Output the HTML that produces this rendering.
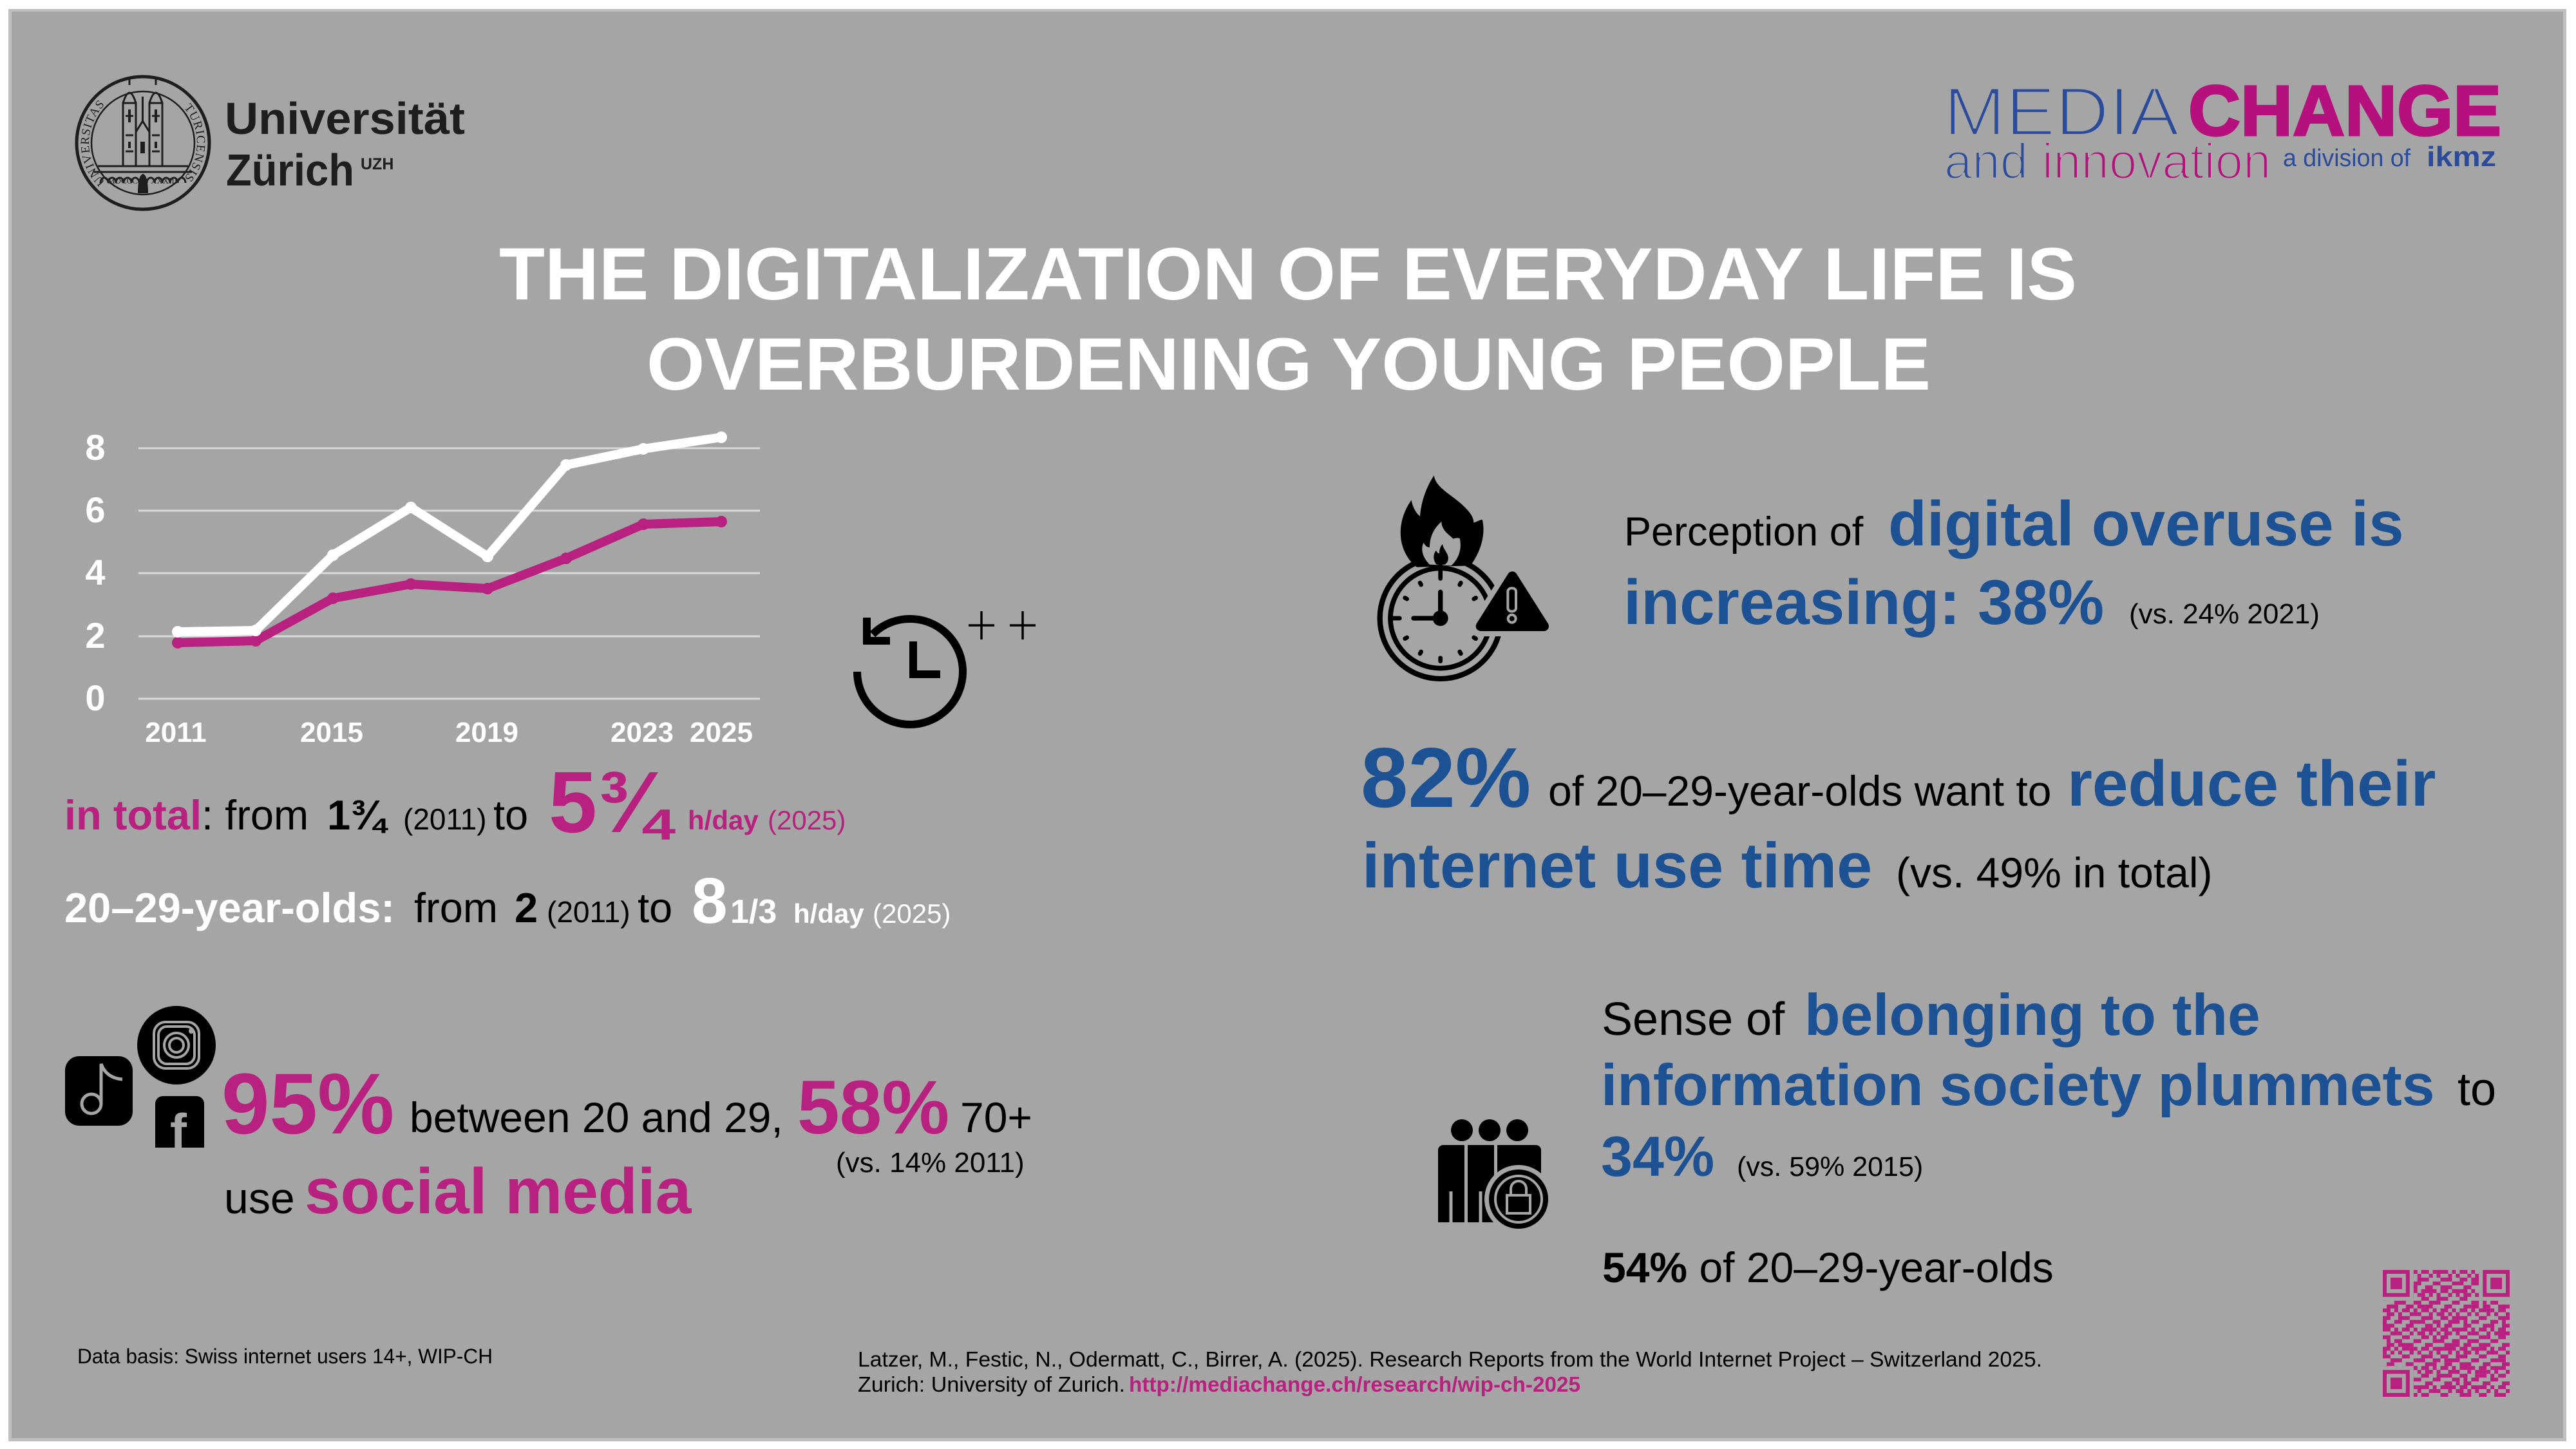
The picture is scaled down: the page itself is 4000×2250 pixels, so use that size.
<!DOCTYPE html>
<html><head><meta charset="utf-8">
<style>html,body{margin:0;padding:0;background:#fff;}svg{display:block;}</style>
</head>
<body>
<svg width="4000" height="2250" viewBox="0 0 4000 2250" xmlns="http://www.w3.org/2000/svg" font-family="'Liberation Sans', Arial, sans-serif">
<defs>
  <pattern id="qa" width="5" height="5" patternUnits="userSpaceOnUse">
    <path d="M0 0h2v1h-2z M3 0h1v1h-1z M2 1h1v1h-1z M4 1h1v1h-1z M0 2h2v1h-2z M3 3h2v1h-2z M1 4h2v1h-2z" fill="#b8217f"/>
  </pattern>
  <pattern id="qb" width="7" height="7" patternUnits="userSpaceOnUse">
    <path d="M0 0h1v1h-1z M5 1h1v1h-1z M2 2h2v1h-2z M6 3h1v1h-1z M1 4h1v1h-1z M4 5h2v1h-2z M0 6h1v1h-1z M3 6h1v1h-1z" fill="#b8217f"/>
  </pattern>
  <path id="sl" d="M207.4 304.7 A84 84 0 0 1 207.4 139.3" fill="none"/>
  <path id="sr" d="M236.6 139.3 A84 84 0 0 1 236.6 304.7" fill="none"/>
</defs>

<!-- background panel -->
<rect x="0" y="0" width="4000" height="2250" fill="#ffffff"/>
<rect x="13" y="14" width="3972" height="2224" fill="#bfbfbf"/>
<rect x="18" y="18" width="3962" height="2215" fill="#a5a5a5"/>

<!-- UZH seal -->
<g fill="none" stroke="#1e1e1e">
  <circle cx="222" cy="222" r="103" stroke-width="5"/>
  <circle cx="222" cy="222" r="80" stroke-width="2.5"/>
  <line x1="152" y1="258" x2="292" y2="258" stroke-width="3"/>
  <line x1="146" y1="267" x2="298" y2="267" stroke-width="3"/>
  <path d="M156 284 a6 8 0 0 1 12 0 a6 8 0 0 1 12 0 a6 8 0 0 1 12 0 a6 8 0 0 1 12 0 a6 8 0 0 1 12 0 a6 8 0 0 1 12 0 a6 8 0 0 1 12 0 a6 8 0 0 1 12 0 a6 8 0 0 1 12 0 a6 8 0 0 1 12 0 a6 8 0 0 1 12 0" stroke-width="3"/>
  <rect x="191" y="160" width="20" height="98" stroke-width="3"/>
  <rect x="232" y="160" width="20" height="98" stroke-width="3"/>
  <path d="M191 160 Q201 128 211 160 M232 160 Q242 128 252 160 M201 132 V120 M242 132 V120" stroke-width="3"/>
  <path d="M211 205 L221.5 188 L232 205 M221.5 188 V150" stroke-width="3"/>
  <path d="M195 180h12 M236 180h12 M195 210h12 M236 210h12 M195 235h12 M236 235h12" stroke-width="3"/>
  <path d="M201 170v20 M242 170v20 M201 220v10 M242 220v10" stroke-width="4"/>
</g>
<rect x="218" y="220" width="7" height="18" fill="#1e1e1e"/>
<path d="M214 300 Q214 272 222 270 Q230 272 230 300 Z" fill="#1e1e1e"/>
<text font-family="'Liberation Serif', serif" font-size="19" fill="#1e1e1e"><textPath href="#sl" startOffset="50%" text-anchor="middle" letter-spacing="1">UNIVERSITAS</textPath></text>
<text font-family="'Liberation Serif', serif" font-size="19" fill="#1e1e1e"><textPath href="#sr" startOffset="50%" text-anchor="middle" letter-spacing="1">TURICENSIS</textPath></text>
<text x="167" y="285" font-family="'Liberation Serif', serif" font-size="13" fill="#1e1e1e">MDCCC</text>
<text x="234" y="285" font-family="'Liberation Serif', serif" font-size="13" fill="#1e1e1e">XXXIII</text>

<text x="349" y="208" font-size="70" font-weight="bold" fill="#1e1e1e" textLength="373" lengthAdjust="spacingAndGlyphs">Universität</text>
<text x="351" y="288" font-size="70" font-weight="bold" fill="#1e1e1e" textLength="199" lengthAdjust="spacingAndGlyphs">Zürich</text>
<text x="560" y="263" font-size="25" font-weight="bold" fill="#1e1e1e">UZH</text>

<!-- MEDIACHANGE logo -->
<text x="3018" y="210" font-size="107" fill="#2b4c9c" stroke="#a5a5a5" stroke-width="4" textLength="366" lengthAdjust="spacingAndGlyphs">MEDIA</text>
<text x="3398" y="210" font-size="110" font-weight="bold" fill="#b5107e" stroke="#b5107e" stroke-width="3" textLength="486" lengthAdjust="spacingAndGlyphs">CHANGE</text>
<text x="3019" y="277" font-size="78" stroke="#a5a5a5" stroke-width="3"><tspan fill="#2b4c9c">and</tspan><tspan fill="#b5107e"> innovation</tspan></text>
<text x="3545" y="258" font-size="38" fill="#2b4c9c" textLength="198" lengthAdjust="spacingAndGlyphs">a division of</text>
<text x="3768" y="258" font-size="44" font-weight="bold" fill="#2b4c9c" textLength="108" lengthAdjust="spacingAndGlyphs">ikmz</text>

<!-- Title -->
<text x="775" y="465" font-size="115" font-weight="bold" fill="#ffffff" textLength="2450" lengthAdjust="spacingAndGlyphs">THE DIGITALIZATION OF EVERYDAY LIFE IS</text>
<text x="1004" y="605" font-size="115" font-weight="bold" fill="#ffffff" textLength="1994" lengthAdjust="spacingAndGlyphs">OVERBURDENING YOUNG PEOPLE</text>

<!-- Chart -->
<g stroke="#d9d9d9" stroke-width="3">
  <line x1="215" y1="696" x2="1180" y2="696"/>
  <line x1="215" y1="793" x2="1180" y2="793"/>
  <line x1="215" y1="890" x2="1180" y2="890"/>
  <line x1="215" y1="988" x2="1180" y2="988"/>
  <line x1="215" y1="1085" x2="1180" y2="1085"/>
</g>
<g font-size="56" font-weight="bold" fill="#ffffff" text-anchor="middle">
  <text x="148" y="714">8</text>
  <text x="148" y="811">6</text>
  <text x="148" y="908">4</text>
  <text x="148" y="1006">2</text>
  <text x="148" y="1103">0</text>
</g>
<g font-size="44" font-weight="bold" fill="#ffffff" text-anchor="middle">
  <text x="273" y="1152">2011</text>
  <text x="515" y="1152">2015</text>
  <text x="756" y="1152">2019</text>
  <text x="997" y="1152">2023</text>
  <text x="1120" y="1152">2025</text>
</g>
<polyline points="276,998 397,995 517,929 638,907 757,914 879,867 999,814 1120,810" fill="none" stroke="#b8217f" stroke-width="14" stroke-linecap="round" stroke-linejoin="round"/>
<g fill="#b8217f">
  <circle cx="276" cy="998" r="9"/><circle cx="397" cy="995" r="9"/><circle cx="517" cy="929" r="9"/><circle cx="638" cy="907" r="9"/>
  <circle cx="757" cy="914" r="9"/><circle cx="879" cy="867" r="9"/><circle cx="999" cy="814" r="9"/><circle cx="1120" cy="810" r="9"/>
</g>
<polyline points="276,981 397,979 517,862 638,788 757,864 879,722 999,697 1120,679" fill="none" stroke="#ffffff" stroke-width="14" stroke-linecap="round" stroke-linejoin="round"/>
<g fill="#ffffff">
  <circle cx="276" cy="981" r="9"/><circle cx="397" cy="979" r="9"/><circle cx="517" cy="862" r="9"/><circle cx="638" cy="788" r="9"/>
  <circle cx="757" cy="864" r="9"/><circle cx="879" cy="722" r="9"/><circle cx="999" cy="697" r="9"/><circle cx="1120" cy="679" r="9"/>
</g>

<!-- history clock icon -->
<g fill="none" stroke="#000" stroke-width="12">
  <path d="M1331 1043 A82 82 0 1 0 1355 985"/>
  <path d="M1346 959 V995 H1382" stroke-linecap="butt" stroke-linejoin="miter"/>
  <path d="M1418 996 V1047 H1460" stroke-linejoin="miter"/>
</g>
<g stroke="#000" stroke-width="3.5">
  <line x1="1504" y1="971" x2="1544" y2="971"/>
  <line x1="1524" y1="949" x2="1524" y2="993"/>
  <line x1="1568" y1="971" x2="1608" y2="971"/>
  <line x1="1588" y1="949" x2="1588" y2="993"/>
</g>

<!-- Left text lines -->
<text y="1288" font-size="65" fill="#000">
  <tspan x="100" font-weight="bold" fill="#b8217f">in total</tspan><tspan>: from</tspan>
  <tspan x="508" font-weight="bold">1¾</tspan>
  <tspan x="626" font-size="46">(2011)</tspan>
  <tspan x="766">to</tspan>
</text>
<text x="852" y="1292" font-size="135" font-weight="bold" fill="#b8217f">5¾</text>
<text x="1068" y="1288" font-size="42" fill="#b8217f"><tspan font-weight="bold">h/day</tspan><tspan x="1192">(2025)</tspan></text>

<text y="1432" font-size="65" fill="#000">
  <tspan x="100" font-weight="bold" fill="#ffffff">20–29-year-olds:</tspan>
  <tspan x="643">from</tspan>
  <tspan x="799" font-weight="bold">2</tspan>
  <tspan x="849" font-size="46">(2011)</tspan>
  <tspan x="990">to</tspan>
</text>
<text x="1074" y="1433" font-size="100" font-weight="bold" fill="#ffffff">8</text>
<text x="1134" y="1433" font-size="52" font-weight="bold" fill="#ffffff">1/3</text>
<text x="1232" y="1433" font-size="42" fill="#ffffff"><tspan font-weight="bold">h/day</tspan><tspan x="1355">(2025)</tspan></text>

<!-- social icons -->
<rect x="101" y="1640" width="105" height="108" rx="22" fill="#000"/>
<g fill="none" stroke="#a5a5a5" stroke-width="5">
  <circle cx="142" cy="1714" r="15"/>
  <path d="M157 1714 V1652 Q165 1674 190 1676"/>
</g>
<circle cx="274" cy="1623" r="61" fill="#000"/>
<g fill="none" stroke="#a5a5a5" stroke-width="4">
  <rect x="239" y="1587" width="70" height="72" rx="18"/>
  <rect x="246" y="1594" width="56" height="58" rx="13"/>
  <circle cx="274" cy="1623" r="19"/>
  <circle cx="274" cy="1623" r="11"/>
</g>
<circle cx="297" cy="1601" r="4" fill="#a5a5a5"/>
<path d="M241 1714 a12 12 0 0 1 12 -12 h52 a12 12 0 0 1 12 12 V1782 H241 Z" fill="#000"/>
<text x="264" y="1784" font-size="78" font-weight="bold" fill="#a5a5a5">f</text>

<text y="1760" fill="#000">
  <tspan x="344" font-size="134" font-weight="bold" fill="#b8217f">95%</tspan>
  <tspan x="636" y="1758" font-size="66">between 20 and 29,</tspan>
  <tspan x="1238" y="1760" font-size="118" font-weight="bold" fill="#b8217f">58%</tspan>
  <tspan x="1491" y="1758" font-size="66">70+</tspan>
</text>
<text x="1298" y="1820" font-size="44" fill="#000">(vs. 14% 2011)</text>
<text y="1884" fill="#000">
  <tspan x="348" font-size="68">use</tspan>
  <tspan x="473" font-size="100" font-weight="bold" fill="#b8217f">social media</tspan>
</text>

<!-- Stopwatch icon -->
<g transform="translate(2120 720) scale(0.33333)">
  <circle cx="350" cy="720" r="282" fill="none" stroke="#000" stroke-width="25"/>
  <circle cx="350" cy="720" r="233" fill="none" stroke="#000" stroke-width="23"/>
  <g stroke="#000" stroke-width="20" stroke-linecap="round">
    <line x1="350" y1="495" x2="350" y2="535"/>
    <line x1="125" y1="720" x2="160" y2="720"/>
    <line x1="350" y1="905" x2="350" y2="920"/>
    <line x1="255" y1="555" x2="260" y2="564"/>
    <line x1="445" y1="555" x2="440" y2="564"/>
    <line x1="185" y1="625" x2="194" y2="630"/>
    <line x1="185" y1="815" x2="194" y2="810"/>
    <line x1="255" y1="885" x2="260" y2="876"/>
    <line x1="445" y1="885" x2="440" y2="876"/>
    <line x1="515" y1="815" x2="506" y2="810"/>
    <line x1="515" y1="625" x2="506" y2="630"/>
  </g>
  <path d="M350 598 V720 H225" fill="none" stroke="#000" stroke-width="22" stroke-linecap="round" stroke-linejoin="round"/>
  <circle cx="350" cy="720" r="36" fill="#000"/>
  <path d="M240 482 C185 440 150 360 170 270 C180 225 200 190 215 170 C220 200 235 230 255 245 C260 170 290 100 320 55 C330 120 420 150 480 220 C500 245 505 260 505 275 C520 270 535 262 545 260 C560 320 545 400 490 475 Z" fill="#000"/>
  <path d="M300 470 C270 440 255 400 272 368 C280 385 290 390 300 390 C300 340 320 300 355 270 C355 310 390 330 410 350 C420 345 430 345 440 348 C450 390 440 440 400 475 Z" fill="#a5a5a5"/>
  <path d="M332 470 C315 450 315 420 330 405 C335 415 340 418 345 418 C345 400 350 385 360 375 C362 395 380 410 385 430 C390 450 380 465 370 470 Z" fill="#000"/>
  <rect x="340" y="460" width="20" height="40" fill="#000"/>
  <polygon points="685,525 538,757 832,757" fill="#a5a5a5" stroke="#a5a5a5" stroke-width="95" stroke-linejoin="round"/>
  <polygon points="685,525 538,757 832,757" fill="#000" stroke="#000" stroke-width="46" stroke-linejoin="round"/>
  <rect x="664" y="580" width="38" height="108" rx="16" fill="#000" stroke="#a5a5a5" stroke-width="12"/>
  <circle cx="683" cy="722" r="18" fill="#000" stroke="#a5a5a5" stroke-width="12"/>
</g>

<!-- Right text block 1 -->
<text x="2522" y="847" font-size="63" fill="#000">Perception of</text>
<text x="2932" y="847" font-size="98" font-weight="bold" fill="#1c5294">digital overuse is</text>
<text x="2521" y="969" font-size="98" font-weight="bold" fill="#1c5294">increasing: 38%</text>
<text x="3306" y="968" font-size="44" fill="#000">(vs. 24% 2021)</text>

<text x="2113" y="1253" font-size="132" font-weight="bold" fill="#1c5294">82%</text>
<text x="2404" y="1251" font-size="66" fill="#000">of 20–29-year-olds want to</text>
<text x="3210" y="1251" font-size="100" font-weight="bold" fill="#1c5294">reduce their</text>
<text x="2115" y="1378" font-size="99" font-weight="bold" fill="#1c5294">internet use time</text>
<text x="2944" y="1378" font-size="66" fill="#000">(vs. 49% in total)</text>

<!-- People icon -->
<g fill="#000">
  <circle cx="2270" cy="1755" r="17"/>
  <circle cx="2313" cy="1755" r="17"/>
  <circle cx="2356" cy="1755" r="17"/>
  <path d="M2233 1786 a8 8 0 0 1 8 -8 h33 V1898 H2233 Z"/>
  <path d="M2279 1778 h41 V1898 H2279 Z"/>
  <path d="M2325 1778 h60 a8 8 0 0 1 8 8 V1835 H2325 Z"/>
</g>
<line x1="2253" y1="1850" x2="2253" y2="1898" stroke="#a5a5a5" stroke-width="5"/>
<line x1="2299" y1="1850" x2="2299" y2="1898" stroke="#a5a5a5" stroke-width="5"/>
<circle cx="2358" cy="1862" r="53" fill="#a5a5a5"/>
<circle cx="2358" cy="1862" r="46" fill="#000"/>
<circle cx="2358" cy="1862" r="36" fill="none" stroke="#a5a5a5" stroke-width="4"/>
<path d="M2346 1856 v-10 a12 12 0 0 1 24 0 v10" fill="none" stroke="#a5a5a5" stroke-width="4"/>
<rect x="2340" y="1856" width="36" height="28" fill="#000" stroke="#a5a5a5" stroke-width="4"/>

<!-- Right text block 3 -->
<text x="2487" y="1607" font-size="72" fill="#000">Sense of</text>
<text x="2802" y="1607" font-size="91" font-weight="bold" fill="#1c5294">belonging to the</text>
<text x="2486" y="1716" font-size="91" font-weight="bold" fill="#1c5294">information society plummets</text>
<text x="3816" y="1716" font-size="72" fill="#000">to</text>
<text x="2486" y="1826" font-size="88" font-weight="bold" fill="#1c5294">34%</text>
<text x="2697" y="1826" font-size="43" fill="#000">(vs. 59% 2015)</text>
<text x="2488" y="1991" font-size="66" fill="#000"><tspan font-weight="bold">54%</tspan> of 20–29-year-olds</text>

<!-- QR code -->
<g transform="translate(3700 1972) scale(5.97)">
  <rect x="0" y="0" width="33" height="33" fill="url(#qa)"/>
  <rect x="0" y="0" width="33" height="33" fill="url(#qb)"/>
  <rect x="0" y="0" width="8" height="8" fill="#a5a5a5"/>
  <rect x="25" y="0" width="8" height="8" fill="#a5a5a5"/>
  <rect x="0" y="25" width="8" height="8" fill="#a5a5a5"/>
  <g fill="#b8217f" fill-rule="evenodd">
    <path d="M0 0h7v7h-7z M1 1v5h5v-5z"/>
    <path d="M26 0h7v7h-7z M27 1v5h5v-5z"/>
    <path d="M0 26h7v7h-7z M1 27v5h5v-5z"/>
    <rect x="2" y="2" width="3" height="3"/>
    <rect x="28" y="2" width="3" height="3"/>
    <rect x="2" y="28" width="3" height="3"/>
  </g>
</g>

<!-- Footer -->
<text x="120" y="2117" font-size="32" fill="#000" textLength="645" lengthAdjust="spacingAndGlyphs">Data basis: Swiss internet users 14+, WIP-CH</text>
<text x="1332" y="2122" font-size="33" fill="#000" textLength="1839" lengthAdjust="spacingAndGlyphs">Latzer, M., Festic, N., Odermatt, C., Birrer, A. (2025). Research Reports from the World Internet Project – Switzerland 2025.</text>
<text x="1332" y="2161" font-size="33" fill="#000" textLength="415" lengthAdjust="spacingAndGlyphs">Zurich: University of Zurich.</text>
<text x="1753" y="2161" font-size="33" font-weight="bold" fill="#b8217f" textLength="701" lengthAdjust="spacingAndGlyphs">http://mediachange.ch/research/wip-ch-2025</text>
</svg>
</body></html>
